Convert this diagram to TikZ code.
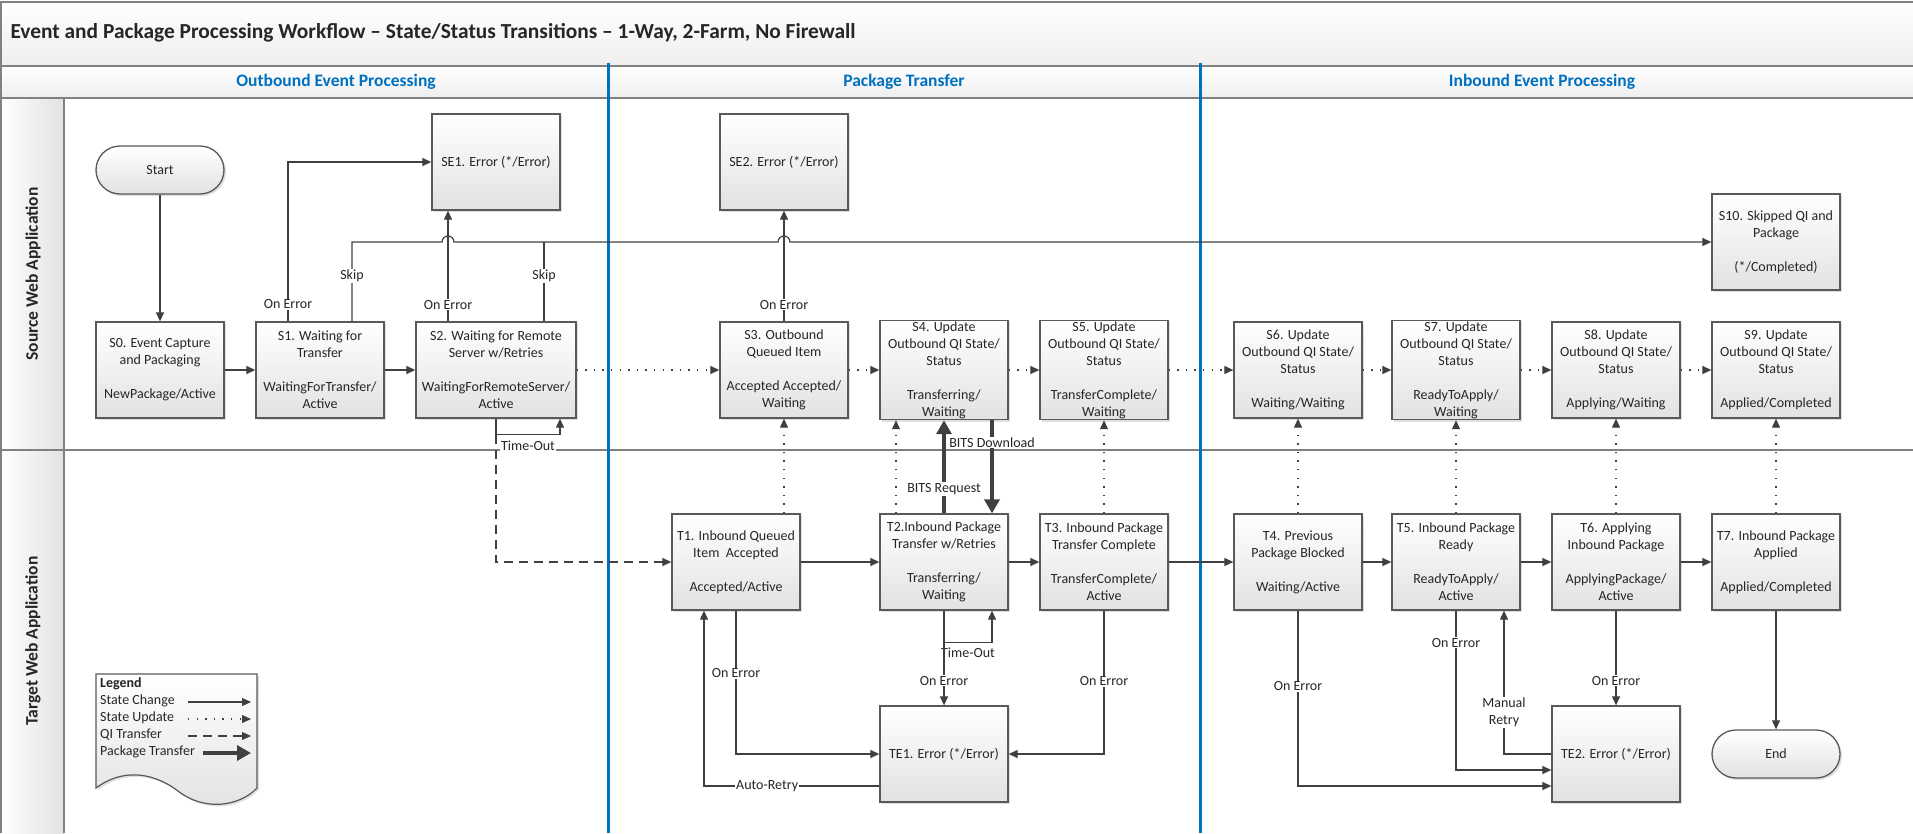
\documentclass[tikz,border=0pt]{standalone}
\usepackage{fontspec}
\setmainfont{Carlito}
\usetikzlibrary{arrows.meta,shadows}

\definecolor{laneblue}{HTML}{0070C0}
\definecolor{linecol}{HTML}{404040}
\definecolor{boxline}{HTML}{595959}
\definecolor{framecol}{HTML}{808080}
\definecolor{boxbot}{HTML}{E2E2E2}
\definecolor{bandbot}{HTML}{EEEEEE}

\newcommand\boxfont{\fontsize{14}{17}\selectfont}
\newcommand\titlefont{\fontsize{21.4}{25}\selectfont\bfseries}
\newcommand\headfont{\fontsize{17.5}{21}\selectfont\bfseries}

\begin{document}
\begin{tikzpicture}[x=1pt, y=-1pt,
  stbox/.style={draw=boxline, line width=1.3pt, top color=white, bottom color=boxbot,
    minimum width=128pt, minimum height=96pt, align=center, inner sep=1pt,
    font=\boxfont, text=black!85,
    drop shadow={shadow xshift=2pt, shadow yshift=-2pt, opacity=0.25}},
  widebox/.style={stbox, minimum width=160pt},
  termbox/.style={stbox, minimum height=48pt, rounded corners=24pt},
  flow/.style={draw=linecol, line width=1.2pt, -{Triangle[length=9pt, width=8pt]}},
  link/.style={draw=linecol, line width=1.2pt},
  upd/.style={flow, dash pattern=on 1.4pt off 7.2pt},
  qi/.style={flow, dash pattern=on 9pt off 6pt},
  pkg/.style={draw=linecol, line width=4.5pt, -{Triangle[length=14pt, width=15pt]}},
  lbl/.style={fill=white, inner sep=1pt, font=\boxfont, text=black!85},
  bandfill/.style={top color=white, bottom color=bandbot},
  frameline/.style={draw=framecol, line width=2pt},
  phaseline/.style={draw=laneblue, line width=3pt}]

  % Fix the page to the reference size
  \useasboundingbox (0,0) rectangle (1913,833);

  % Draw the title band, the phase headers and the lane column
  \shade[bandfill] (0,2) rectangle (1913,66);
  \shade[bandfill] (0,66) rectangle (1913,98);
  \shade[left color=white, right color=boxbot] (0,98) rectangle (64,833);
  \draw[frameline] (1,833) -- (1,2) -- (1913,2);
  \draw[frameline] (0,66) -- (1913,66);
  \draw[frameline] (0,98) -- (1913,98);
  \draw[frameline] (64,98) -- (64,833);
  \draw[frameline, line width=1.6pt] (0,450) -- (1913,450);

  % Draw the phase separators
  \draw[phaseline] (608,63) -- (608,833);
  \draw[phaseline] (1200,63) -- (1200,833);

  % Title, phases and lanes
  \node[anchor=west, font=\titlefont, text=black!85] (title) at (7,33)
    {Event and Package Processing Workflow – State/Status Transitions – 1-Way, 2-Farm, No Firewall};
  \node[font=\headfont, text=laneblue] (hOut) at (336,82) {Outbound Event Processing};
  \node[font=\headfont, text=laneblue] (hPkg) at (904,82) {Package Transfer};
  \node[font=\headfont, text=laneblue] (hIn) at (1542,82) {Inbound Event Processing};
  \node[rotate=90, font=\headfont, text=black!85] (lSrc) at (33,274) {Source Web Application};
  \node[rotate=90, font=\headfont, text=black!85] (lTgt) at (33,641) {Target Web Application};

  % Source lane states
  \node[termbox] (start) at (160,170) {Start};
  \node[stbox] (S0) at (160,370) {S0. Event Capture\\and Packaging\\[17pt]NewPackage/Active};
  \node[stbox] (S1) at (320,370) {S1. Waiting for\\Transfer\\[17pt]WaitingForTransfer/\\Active};
  \node[widebox] (S2) at (496,370) {S2. Waiting for Remote\\Server w/Retries\\[17pt]WaitingForRemoteServer/\\Active};
  \node[stbox] (SE1) at (496,162) {SE1. Error (*/Error)};
  \node[stbox] (SE2) at (784,162) {SE2. Error (*/Error)};
  \node[stbox] (S3) at (784,370) {S3. Outbound\\Queued Item\\[17pt]Accepted Accepted/\\Waiting};
  \node[stbox] (S4) at (944,370) {S4. Update\\Outbound QI State/\\Status\\[17pt]Transferring/\\Waiting};
  \node[stbox] (S5) at (1104,370) {S5. Update\\Outbound QI State/\\Status\\[17pt]TransferComplete/\\Waiting};
  \node[stbox] (S6) at (1298,370) {S6. Update\\Outbound QI State/\\Status\\[17pt]Waiting/Waiting};
  \node[stbox] (S7) at (1456,370) {S7. Update\\Outbound QI State/\\Status\\[17pt]ReadyToApply/\\Waiting};
  \node[stbox] (S8) at (1616,370) {S8. Update\\Outbound QI State/\\Status\\[17pt]Applying/Waiting};
  \node[stbox] (S9) at (1776,370) {S9. Update\\Outbound QI State/\\Status\\[17pt]Applied/Completed};
  \node[stbox] (S10) at (1776,242) {S10. Skipped QI and\\Package\\[17pt](*/Completed)};

  % Target lane states
  \node[stbox] (T1) at (736,562) {T1. Inbound Queued\\Item\ \ Accepted\\[17pt]Accepted/Active};
  \node[stbox] (T2) at (944,562) {T2.Inbound Package\\Transfer w/Retries\\[17pt]Transferring/\\Waiting};
  \node[stbox] (T3) at (1104,562) {T3. Inbound Package\\Transfer Complete\\[17pt]TransferComplete/\\Active};
  \node[stbox] (T4) at (1298,562) {T4. Previous\\Package Blocked\\[17pt]Waiting/Active};
  \node[stbox] (T5) at (1456,562) {T5. Inbound Package\\Ready\\[17pt]ReadyToApply/\\Active};
  \node[stbox] (T6) at (1616,562) {T6. Applying\\Inbound Package\\[17pt]ApplyingPackage/\\Active};
  \node[stbox] (T7) at (1776,562) {T7. Inbound Package\\Applied\\[17pt]Applied/Completed};
  \node[stbox] (TE1) at (944,754) {TE1. Error (*/Error)};
  \node[stbox] (TE2) at (1616,754) {TE2. Error (*/Error)};
  \node[termbox] (end) at (1776,754) {End};

  % Hops of the skip line
  \coordinate (hopA) at ([xshift=-54pt]S2.north |- S10.west);
  \coordinate (hopB) at ([xshift=-6pt]S3.north |- S10.west);

  % State changes in the source lane
  \draw[flow] (start) -- (S0);
  \draw[flow] (S0) -- (S1);
  \draw[flow] (S1) -- (S2);
  \draw[flow] ([xshift=-32pt]S1.north) |- (SE1.west) node[lbl, pos=0.053] (eS1) {On Error};
  \draw[flow] ([xshift=-48pt]S2.north) -- ([xshift=-48pt]SE1.south) node[lbl, pos=0.152] (eS2) {On Error};
  \draw[flow] (S3) -- (SE2) node[lbl, pos=0.152] (eS3) {On Error};
  \draw[flow] ([xshift=32pt]S1.north) |- (hopA) arc[start angle=180, end angle=0, radius=6pt]
    -- (hopB) arc[start angle=180, end angle=0, radius=6pt] -- (S10.west);
  \draw[link] ([xshift=48pt]S2.north) -- ([xshift=48pt]S2.north |- S10.west);
  \node[lbl] (kS1) at (352,276) {Skip};
  \node[lbl] (kS2) at (544,276) {Skip};
  \draw[flow] (S2.south) -- ++(0,16) -| ([xshift=64pt]S2.south);
  \node[lbl] (toS2) at (528,446) {Time-Out};

  % QI transfer to the target
  \draw[qi] ([yshift=-16pt]S2.south) |- (T1.west);

  % State updates
  \foreach \a/\b in {S2/S3,S3/S4,S4/S5,S5/S6,S6/S7,S7/S8,S8/S9}
    \draw[upd] (\a) -- (\b);
  \draw[upd] (S3.south |- T1.north) -- (S3.south);
  \draw[upd] ([xshift=-48pt]T2.north) -- ([xshift=-48pt]S4.south);
  \foreach \a/\b in {T3/S5,T4/S6,T5/S7,T6/S8,T7/S9}
    \draw[upd] (\a) -- (\b);

  % Package transfer
  \draw[pkg] (T2.north) -- (S4.south) node[lbl, pos=0.26] (req) {BITS Request};
  \draw[pkg] ([xshift=48pt]S4.south) -- ([xshift=48pt]T2.north) node[lbl, pos=0.24] (dl) {BITS Download};

  % State changes in the target lane
  \foreach \a/\b in {T1/T2,T2/T3,T3/T4,T4/T5,T5/T6,T6/T7}
    \draw[flow] (\a) -- (\b);
  \draw[flow] (T2.south) -- ++(0,32) -| ([xshift=48pt]T2.south);
  \node[font=\boxfont, text=black!85] (toT2) at (968,653) {Time-Out};
  \draw[flow] (T2) -- (TE1) node[lbl, pos=0.74] (eT2) {On Error};
  \draw[flow] (T1.south) |- (TE1.west) node[lbl, pos=0.219] (eT1) {On Error};
  \draw[flow] ([yshift=-32pt]TE1.west) -| ([xshift=-32pt]T1.south) node[lbl, pos=0.32] (retry) {Auto-Retry};
  \draw[flow] (T3.south) |- (TE1.east) node[lbl, pos=0.247] (eT3) {On Error};
  \draw[flow] (T4.south) |- ([yshift=-32pt]TE2.west) node[lbl, pos=0.216] (eT4) {On Error};
  \draw[flow] (T5.south) |- ([yshift=-16pt]TE2.west) node[lbl, pos=0.1] (eT5) {On Error};
  \draw[flow] (TE2.west) -| ([xshift=48pt]T5.south) node[lbl, pos=0.646, align=center] (mr) {Manual\\Retry};
  \draw[flow] (T6) -- (TE2) node[lbl, pos=0.74] (eT6) {On Error};
  \draw[flow] (T7) -- (end);

  % Draw the legend sheet
  \draw[draw=boxline, line width=1.2pt, top color=white, bottom color=boxbot,
    drop shadow={shadow xshift=2pt, shadow yshift=-2pt, opacity=0.25}]
    (96,674) -- (257,674) -- (257,788) .. controls (240,806) and (205,812) .. (178,791)
    .. controls (150,770) and (120,770) .. (96,788) -- cycle;
  \node[anchor=north west, align=left, font=\boxfont, inner sep=0pt, text=black!85] (legend) at (100,677)
    {\textbf{Legend}\\State Change\\State Update\\QI Transfer\\Package Transfer};
  \draw[flow] (188,702) -- (251,702);
  \draw[upd] (188,719) -- (251,719);
  \draw[qi] (188,736) -- (251,736);
  \draw[pkg] (203,753) -- (251,753);
\end{tikzpicture}
\end{document}
